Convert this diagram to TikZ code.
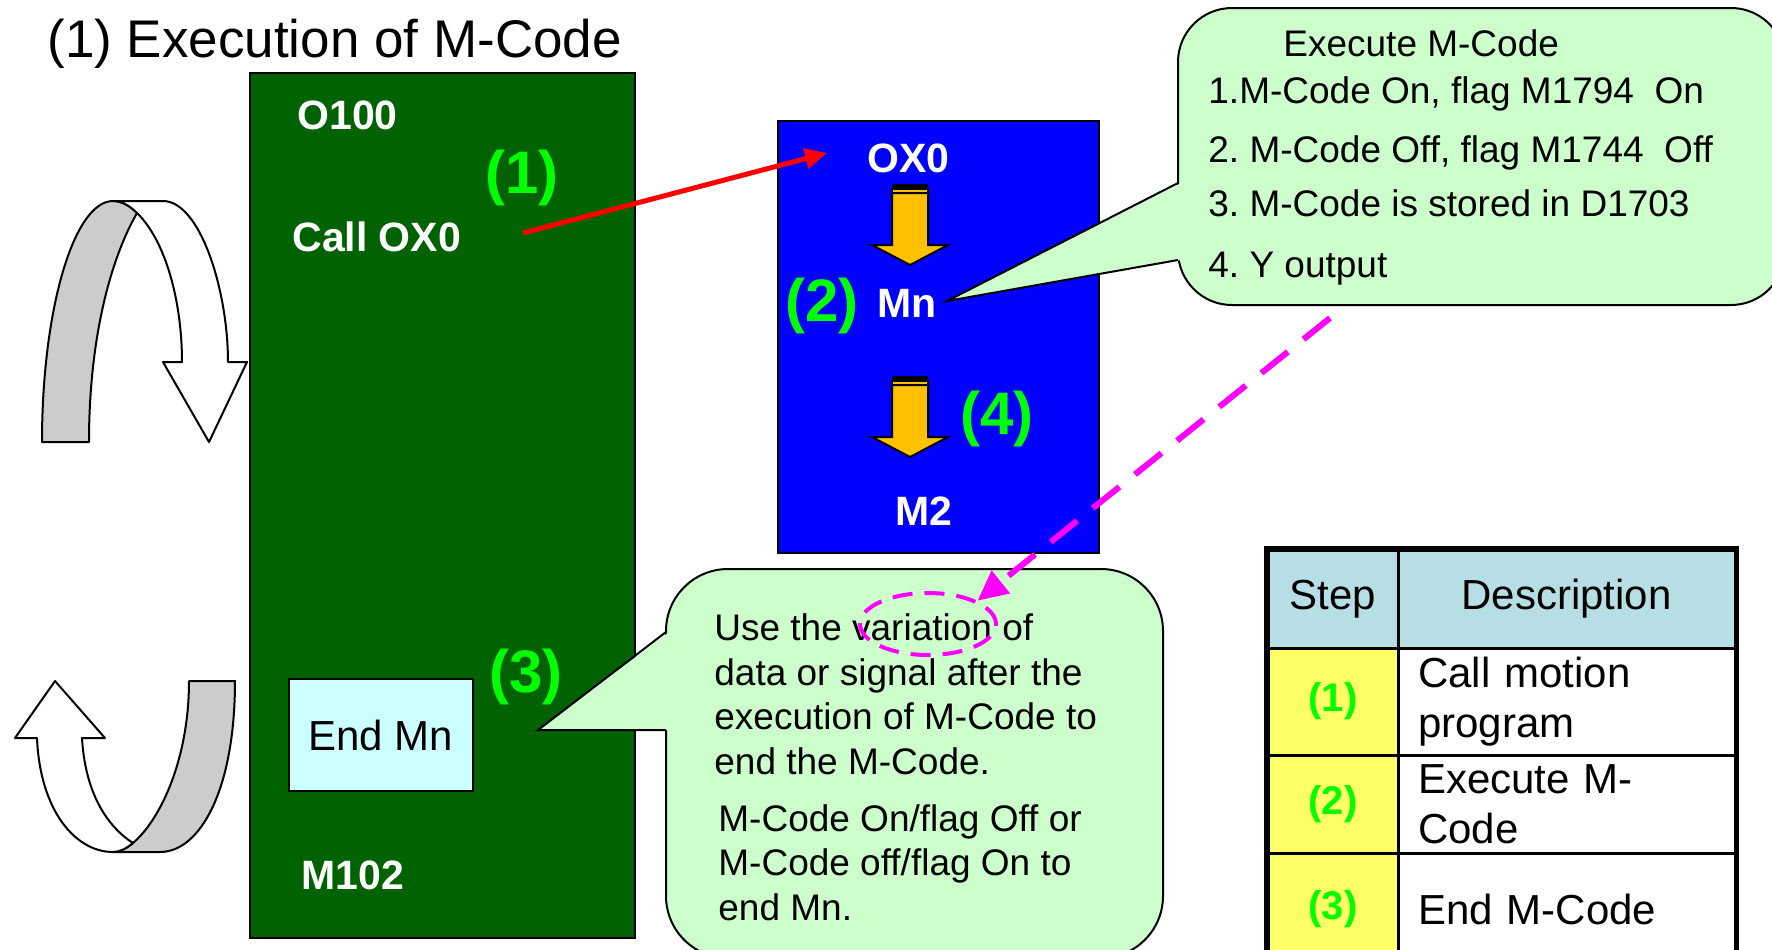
\documentclass[tikz,border=0pt]{standalone}
\usepackage{fontspec}
\setmainfont{Liberation Sans}
\usetikzlibrary{arrows.meta,shapes.geometric}

\definecolor{proggreen}{RGB}{0,98,0}
\definecolor{steplime}{RGB}{0,255,0}
\definecolor{notegreen}{RGB}{204,255,204}
\definecolor{endcyan}{RGB}{204,255,255}
\definecolor{headblue}{RGB}{183,222,228}
\definecolor{stepyellow}{RGB}{255,255,102}
\definecolor{arrowyellow}{RGB}{255,192,0}
\definecolor{ribbongray}{RGB}{204,204,204}
\definecolor{markpink}{RGB}{255,0,255}

\begin{document}
\frenchspacing
\begin{tikzpicture}[x=0.5pt,y=-0.5pt,
    wlabel/.style={text=white, font=\fontsize{20.5}{24}\selectfont\bfseries, inner sep=0, anchor=base west},
    steplabel/.style={text=steplime, font=\fontsize{30}{36}\selectfont\bfseries, inner sep=0, anchor=base west},
    notetext/.style={font=\fontsize{18.5}{22.25}\selectfont, inner sep=0, anchor=base west, align=left},
    notebox/.style={fill=notegreen, draw=black, line width=1pt, inner sep=0},
    cell/.style={draw=black, line width=1.5pt, inner sep=0, font=\fontsize{21}{25}\selectfont},
    desc/.style={cell, fill=white, minimum width=168.5pt, text width=148.5pt, inner xsep=10pt, align=left},
    ribbon/.style={draw=black, line width=1pt, line join=round},
  ]
    \path[use as bounding box] (0,0) rectangle (1772,949);
    \clip (0,0) rectangle (1772,949);

    % Title
    \node[anchor=base west, inner sep=0, font=\fontsize{26.5}{32}\selectfont] (title) at (47,57) {(1) Execution of M-Code};

    % Round arrows on the left
    \filldraw[ribbon, fill=ribbongray] (42,442) .. controls (42,309) and (74,201) .. (113,201)
        .. controls (122,201) and (130,206) .. (137,213) .. controls (110,260) and (89,340) .. (89,442) -- cycle;
    \filldraw[ribbon, fill=white] (113,201) -- (163,201) .. controls (200,201) and (228,290) .. (228,362)
        -- (247,362) -- (209,442) -- (163,362) -- (182,362) .. controls (182,300) and (165,240) .. (137,213)
        .. controls (130,206) and (122,201) .. (113,201) -- cycle;
    \filldraw[ribbon, fill=ribbongray] (189,681) -- (235,681) .. controls (235,790) and (200,852) .. (160,852)
        -- (113,852) .. controls (120,852) and (127,848) .. (133,843) .. controls (160,820) and (189,760) .. (189,681) -- cycle;
    \filldraw[ribbon, fill=white] (37,738) .. controls (40,810) and (75,852) .. (113,852)
        .. controls (120,852) and (127,848) .. (133,843) .. controls (105,825) and (85,790) .. (82,738)
        -- (105,738) -- (55,681) -- (15,738) -- cycle;

    % Main program O100
    \node[draw=black, fill=proggreen, line width=1pt, minimum width=192.5pt, minimum height=432.5pt] (prog) at (442.5,505.5) {};
    \node[wlabel] (o100) at (297,129) {O100};
    \node[steplabel] (step1) at (485,193) {(1)};
    \node[wlabel] (callox) at (292,251) {Call OX0};
    \node[draw=black, fill=endcyan, line width=1pt, minimum width=92pt, minimum height=56pt,
          font=\fontsize{21}{25}\selectfont] (endmn) at (381,735) {End Mn};
    \node[steplabel] (step3) at (489,692) {(3)};
    \node[wlabel] (m102) at (301,889) {M102};

    % Motion program OX0
    \node[draw=black, fill=blue, line width=1pt, minimum width=160.5pt, minimum height=216pt] (motion) at (938.5,337) {};
    \node[wlabel] (ox0) at (867,172) {OX0};
    \node[steplabel] (step2) at (785,321) {(2)};
    \node[wlabel] (mn) at (877,317) {Mn};
    \node[steplabel] (step4) at (960,434) {(4)};
    \node[wlabel] (m2) at (895,525) {M2};
    \foreach \y in {184,376} {
      \fill[black] (892,\y) rectangle (928,\y+5);
      \filldraw[fill=arrowyellow, line width=0.8pt] (892,\y+5) rectangle (928,\y+9);
      \filldraw[fill=arrowyellow, line width=1pt, line join=miter] (892,\y+9) -- (928,\y+9) -- (928,\y+61)
          -- (948,\y+61) -- (910,\y+81) -- (872,\y+61) -- (892,\y+61) -- cycle;
    }

    % Call from O100 to OX0
    \coordinate (callpt) at (523,233);
    \coordinate (ox0pt) at (827,153);
    \draw[red, line width=2.5pt, -{Triangle[length=11pt,width=10pt]}] (callpt) -- (ox0pt);

    % Note on executing the M-Code
    \node[notebox, rounded corners=27pt, minimum width=303.5pt, minimum height=148.5pt] (execnote) at (1481.5,156.5) {};
    \coordinate (mntip) at (947,301);
    \fill[notegreen] (mntip) -- (1181,183) -- (1181,260) -- cycle;
    \draw[line width=1pt, line join=miter] (1178,183) -- (mntip) -- (1178,260);
    \node[notetext] (exec0) at (1283,56) {Execute M-Code};
    \node[notetext] (exec1) at (1208,103) {1.M-Code On, flag M1794\ \ On};
    \node[notetext] (exec2) at (1208,162) {2. M-Code Off, flag M1744\ \ Off};
    \node[notetext] (exec3) at (1208,216) {3. M-Code is stored in D1703};
    \node[notetext] (exec4) at (1208,277) {4. Y output};

    % Note on ending the M-Code (base is the last line)
    \node[notebox, rounded corners=31pt, minimum width=248.5pt, minimum height=194.5pt] (endnote) at (914.5,763.5) {};
    \coordinate (endtip) at (538,730);
    \fill[notegreen] (endtip) -- (669,632) -- (669,730) -- cycle;
    \draw[line width=1pt, line join=miter] (666,632) -- (endtip) -- (666,730);
    \node[notetext] (endtext1) at (714,774) {Use the variation of\\data or signal after the\\execution of M-Code to\\end the M-Code.};
    \node[notetext] (endtext2) at (718,920) {M-Code On/flag Off or\\M-Code off/flag On to\\end Mn.};

    % Variation mark
    \node[ellipse, draw=markpink, line width=2pt, dash pattern=on 10pt off 6pt, inner sep=0,
          minimum width=68pt, minimum height=31pt] (varmark) at (928,624) {};
    \coordinate (dashstart) at (1330,318);
    \draw[markpink, line width=3pt, dash pattern=on 17pt off 10pt, -{Triangle[length=15pt,width=14pt]}] (dashstart) -- (varmark.north east);

    % Step table
    \node[cell, fill=headblue, minimum width=65pt, minimum height=49pt] (hstep) at (1333,599) {Step};
    \node[cell, fill=headblue, minimum width=168.5pt, minimum height=49pt] (hdesc) at (1566.5,599) {Description};
    \node[cell, fill=stepyellow, minimum width=65pt, minimum height=53.5pt, text=steplime, font=\fontsize{20}{24}\selectfont\bfseries] (s1) at (1333,701.5) {(1)};
    \node[desc, minimum height=53.5pt] (d1) at (1566.5,701.5) {Call motion\\program};
    \node[cell, fill=stepyellow, minimum width=65pt, minimum height=49pt, text=steplime, font=\fontsize{20}{24}\selectfont\bfseries] (s2) at (1333,804) {(2)};
    \node[desc, minimum height=49pt] (d2) at (1566.5,804) {Execute M-\\Code};
    \node[cell, fill=stepyellow, minimum width=65pt, minimum height=56pt, text=steplime, font=\fontsize{20}{24}\selectfont\bfseries] (s3) at (1333,909) {(3)};
    \node[desc, minimum height=56pt] (d3) at (1566.5,909) {End M-Code};
    \draw[line width=2.5pt] (hstep.north west) rectangle (d3.south east);
\end{tikzpicture}
\end{document}
